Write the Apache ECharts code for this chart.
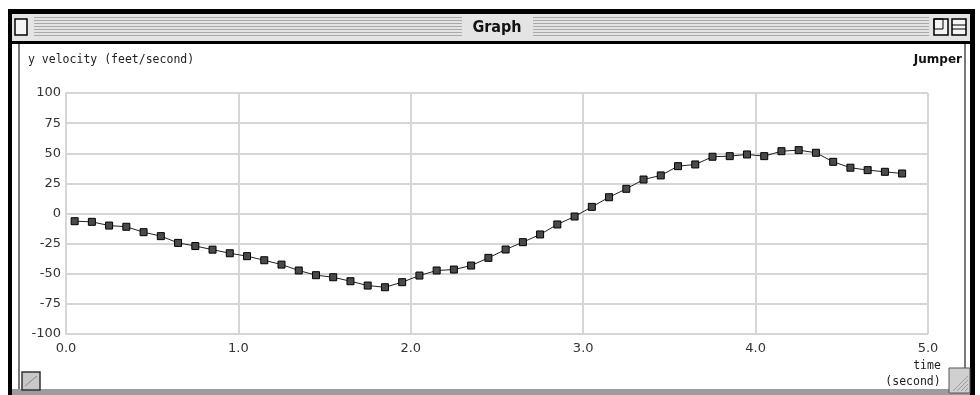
<!DOCTYPE html>
<html>
<head>
<meta charset="utf-8">
<script src="https://cdn.jsdelivr.net/npm/echarts@6/dist/echarts.min.js"></script>
<style>
  html, body { margin: 0; padding: 0; background: #ffffff; }
  #chart { width: 980px; height: 395px; }
</style>
</head>
<body>
<div id="chart"></div>
<script>
// ---- data ----
const times = [0.05, 0.15, 0.25, 0.35, 0.45, 0.55, 0.65, 0.75, 0.85, 0.95,
               1.05, 1.15, 1.25, 1.35, 1.45, 1.55, 1.65, 1.75, 1.85, 1.95,
               2.05, 2.15, 2.25, 2.35, 2.45, 2.55, 2.65, 2.75, 2.85, 2.95,
               3.05, 3.15, 3.25, 3.35, 3.45, 3.55, 3.65, 3.75, 3.85, 3.95,
               4.05, 4.15, 4.25, 4.35, 4.45, 4.55, 4.65, 4.75, 4.85];
const yVelocity = [-6.4, -6.9, -10, -11, -15.5, -18.8, -24.4, -27, -30, -33,
                   -35.4, -38.8, -42.4, -47.3, -51.2, -52.9, -56.2, -59.8, -61.2, -57,
                   -51.5, -47.3, -46.5, -43.2, -36.8, -29.9, -23.8, -17.4, -9.1, -2.5,
                   5.5, 13.5, 20.5, 28.2, 31.6, 39.3, 40.7, 47.1, 47.6, 49,
                   47.6, 51.7, 52.6, 50.4, 42.9, 38, 36, 34.6, 33.2];
const xTickLabels = ['0.0', '1.0', '2.0', '3.0', '4.0', '5.0'];
const yTickLabels = ['-100', '-75', '-50', '-25', '0', '25', '50', '75', '100'];
const windowTitle = 'Graph';
const yAxisTitle = 'y velocity (feet/second)';
const seriesName = 'Jumper';
const xAxisTitle = ['time', '(second)'];

const points = times.map((t, i) => [t, yVelocity[i]]);

const chart = echarts.init(document.getElementById('chart'), null, { renderer: 'canvas' });

// title-bar stripes
const stripes = [];
for (let y = 17; y <= 37; y += 3) {
  stripes.push({ type: 'rect', shape: { x: 34, y: y, width: 428, height: 1 }, style: { fill: '#a9a9a9' }, silent: true });
  stripes.push({ type: 'rect', shape: { x: 533, y: y, width: 396, height: 1 }, style: { fill: '#a9a9a9' }, silent: true });
}
const grip = [];
for (let k = 0; k < 4; k++) {
  grip.push({ type: 'line', shape: { x1: 953 + k * 4, y1: 391, x2: 968, y2: 376 + k * 4 }, style: { stroke: '#9a9a9a', lineWidth: 1 } });
}

const graphics = [
  // outer window black frame
  { type: 'rect', shape: { x: 8, y: 9, width: 967, height: 5 }, style: { fill: '#000' } },
  { type: 'rect', shape: { x: 8, y: 9, width: 4, height: 386 }, style: { fill: '#000' } },
  { type: 'rect', shape: { x: 970, y: 9, width: 5, height: 386 }, style: { fill: '#000' } },
  // title bar
  { type: 'rect', shape: { x: 12, y: 14, width: 958, height: 27 }, style: { fill: '#e4e4e4' } },
  ...stripes,
  { type: 'rect', shape: { x: 15, y: 19, width: 12, height: 16 }, style: { fill: '#f4f4f4', stroke: '#000', lineWidth: 1.5 } },
  { type: 'rect', shape: { x: 934, y: 19, width: 14, height: 16 }, style: { fill: '#f4f4f4', stroke: '#000', lineWidth: 1.5 } },
  { type: 'rect', shape: { x: 934, y: 19, width: 9, height: 10 }, style: { fill: 'none', stroke: '#000', lineWidth: 1 } },
  { type: 'rect', shape: { x: 952, y: 19, width: 14, height: 16 }, style: { fill: '#f4f4f4', stroke: '#000', lineWidth: 1.5 } },
  { type: 'line', shape: { x1: 952, y1: 25, x2: 966, y2: 25 }, style: { stroke: '#000', lineWidth: 1 } },
  { type: 'line', shape: { x1: 952, y1: 29, x2: 966, y2: 29 }, style: { stroke: '#000', lineWidth: 1 } },
  { type: 'text', x: 497, y: 28, style: { text: windowTitle, font: 'bold 16px "DejaVu Sans Condensed", "DejaVu Sans"', fill: '#111', align: 'center', verticalAlign: 'middle' } },
  // line below title bar
  { type: 'rect', shape: { x: 12, y: 41, width: 958, height: 3 }, style: { fill: '#000' } },
  // inner gray frame lines
  { type: 'rect', shape: { x: 18, y: 44, width: 2, height: 346 }, style: { fill: '#7a7a7a' } },
  { type: 'rect', shape: { x: 964, y: 44, width: 2, height: 324 }, style: { fill: '#7a7a7a' } },
  { type: 'rect', shape: { x: 12, y: 389, width: 958, height: 6 }, style: { fill: '#9c9c9c' } },
  // bottom-left icon
  { type: 'rect', shape: { x: 22, y: 372, width: 18, height: 18 }, style: { fill: '#c8c8c8', stroke: '#333', lineWidth: 1.5 } },
  { type: 'line', shape: { x1: 25, y1: 386, x2: 37, y2: 376 }, style: { stroke: '#888', lineWidth: 1 } },
  // resize grip
  { type: 'rect', shape: { x: 949, y: 368, width: 21, height: 25 }, style: { fill: '#d0d0d0', stroke: '#555', lineWidth: 1 } },
  ...grip,
  // texts
  { type: 'text', x: 28, y: 60, style: { text: yAxisTitle, font: '11.5px "DejaVu Sans Mono"', fill: '#222', align: 'left', verticalAlign: 'middle' } },
  { type: 'text', x: 962, y: 60, style: { text: seriesName, font: 'bold 12px "DejaVu Sans"', fill: '#111', align: 'right', verticalAlign: 'middle' } },
  { type: 'text', x: 927, y: 366, style: { text: xAxisTitle[0], font: '11.5px "DejaVu Sans Mono"', fill: '#222', align: 'center', verticalAlign: 'middle' } },
  { type: 'text', x: 913, y: 382, style: { text: xAxisTitle[1], font: '11.5px "DejaVu Sans Mono"', fill: '#222', align: 'center', verticalAlign: 'middle' } }
];

chart.setOption({
  animation: false,
  backgroundColor: '#ffffff',
  grid: { left: 66, top: 93, width: 862, height: 241, containLabel: false },
  xAxis: {
    type: 'value', min: 0, max: 5, interval: 1,
    axisLine: { show: true, lineStyle: { color: '#d6d6d6', width: 2 } },
    axisTick: { show: false },
    splitLine: { show: true, lineStyle: { color: '#d6d6d6', width: 2 } },
    axisLabel: {
      margin: 8, color: '#333', fontFamily: 'DejaVu Sans', fontSize: 13,
      formatter: (v) => xTickLabels[Math.round(v)] ?? ''
    }
  },
  yAxis: {
    type: 'value', min: -100, max: 100, interval: 25,
    axisLine: { show: true, lineStyle: { color: '#d6d6d6', width: 2 } },
    axisTick: { show: false },
    splitLine: { show: true, lineStyle: { color: '#d6d6d6', width: 2 } },
    axisLabel: {
      margin: 5, color: '#333', fontFamily: 'DejaVu Sans', fontSize: 13,
      formatter: (v) => yTickLabels[Math.round((v + 100) / 25)] ?? ''
    }
  },
  graphic: { elements: graphics },
  series: [{
    name: seriesName,
    type: 'line',
    data: points,
    symbol: 'rect',
    symbolSize: 7,
    showAllSymbol: true,
    lineStyle: { color: '#222', width: 1 },
    itemStyle: { color: '#4a4a4a', borderColor: '#000', borderWidth: 1 },
    z: 5
  }]
});
</script>
</body>
</html>
